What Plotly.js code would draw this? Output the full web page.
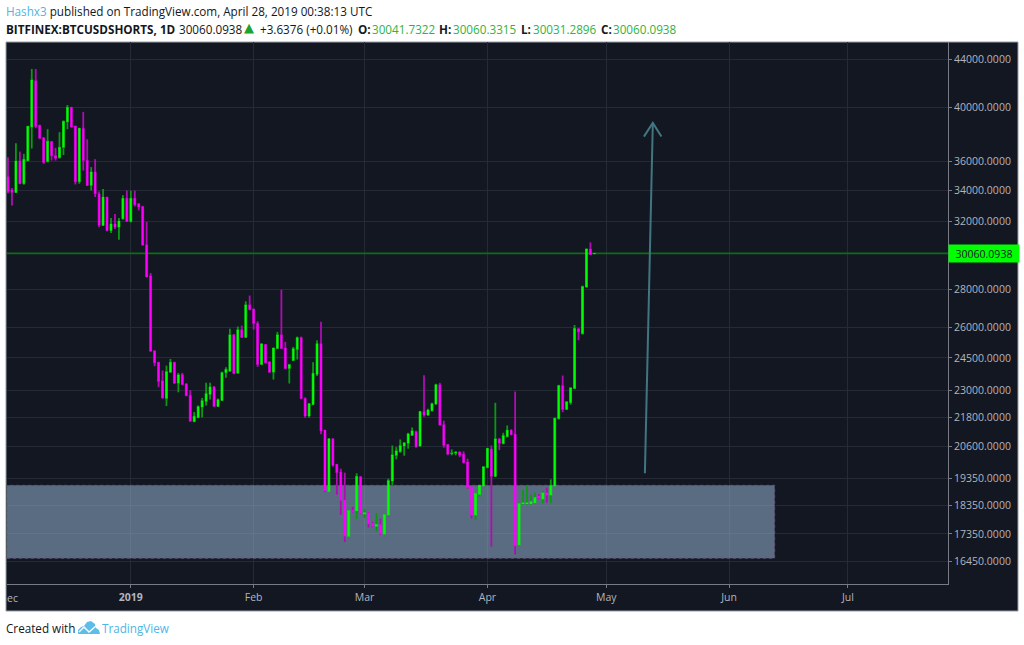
<!DOCTYPE html>
<html>
<head>
<meta charset="utf-8">
<script src="https://cdn.plot.ly/plotly-3.0.1.min.js"></script>
<style>
  html, body { margin: 0; padding: 0; background: #fff; }
</style>
</head>
<body>
<div id="chart"></div>
<script>
const firstDay = '2018-12-01';
const opens = [
  34950,34050,33870,36040,34460,36040,38500,42170,38650,37700,
  35990,37430,36420,36260,36990,38900,40030,38590,34590,38420,
  36090,34340,35270,33790,31760,33570,31430,31860,31640,32170,
  33500,32000,33500,33130,32960,30580,28780,24840,24290,23420,
  22620,23820,24290,23310,23715,23285,22770,21620,21790,22245,
  22490,22800,23150,22275,22535,23790,23870,25640,23775,25890,
  25500,27190,26960,26220,24180,25150,24310,23820,24950,25640,
  24980,23990,24370,24900,25500,22630,21860,22360,23715,25200,
  21265,18850,20910,19885,19600,18545,17260,18175,18150,19410,
  18035,18095,17730,17605,17685,17340,17995,19245,20235,20385,
  20610,20720,21045,21210,20610,22060,21900,22090,22375,23250,
  21505,20675,20305,20320,20370,20290,19975,19035,17995,18740,
  19060,19755,20490,19420,20910,20705,20990,21265,21100,16970,
  18400,18400,18400,18425,18690,18570,18815,18715,19060,21745,
  23205,22143,22435,23070,25940,25690,28150,30320,30041.7322
];
const highs = [
  36300,34170,37310,36700,36540,38570,43150,43150,38650,37750,
  38345,37430,36970,38120,39000,40210,40030,38590,38420,39670,
  37600,35600,36160,33940,34100,33570,32220,32470,32220,33700,
  34000,33990,34000,33180,33000,31970,28930,24840,24290,23900,
  24130,24450,24290,23790,23790,23300,22995,22030,22320,22650,
  23330,23330,23180,22620,23840,24050,25940,25640,26050,26100,
  27370,27680,26980,26320,25210,25150,24310,24980,25780,28000,
  25280,24215,25030,25540,25540,22670,22420,24290,25360,26290,
  21265,20910,20910,19885,19720,19565,18210,18300,19540,19440,
  18210,18115,17765,18070,17880,18035,19335,20635,20570,20880,
  20770,21155,21375,21240,22070,23680,22170,22435,23285,23330,
  21660,20675,20476,20400,20400,20400,20105,19035,18815,19085,
  19795,20520,20635,22435,20910,21155,21460,21293,22935,18450,
  18910,19085,18740,18815,18750,18875,19000,19310,21770,23240,
  23665,22490,23130,26130,25980,28225,30360,30720,30060.3315
];
const lows = [
  33830,33020,33870,34460,34390,36040,36920,38420,37600,35830,
  35920,36060,36060,36210,36450,38345,38470,34410,34460,35360,
  34340,34010,33570,31640,31760,31390,31290,31530,30880,32110,
  31970,31940,32960,32700,30520,28710,24820,24100,23130,22620,
  22290,23790,23300,22900,23220,22730,21630,21600,21770,21800,
  22320,22580,22245,22260,22520,23560,23870,23730,23760,25470,
  25490,26890,25890,24070,24170,24230,23790,23480,24930,24930,
  23960,23300,24360,24420,22600,21790,21790,22360,23640,21090,
  18835,18835,19795,18740,18010,17080,17250,18095,17860,18035,
  17915,17570,17580,17430,17315,17330,17970,19085,20080,20345,
  20225,20505,21020,20545,20600,21830,21860,22060,22360,21460,
  20545,20240,20240,20240,20170,19920,18960,17880,17820,18665,
  19060,19740,16930,19410,20450,20690,20975,21060,16670,16950,
  18375,18375,18375,18400,18570,18425,18450,18425,19060,21715,
  22025,22130,22350,23070,25360,25640,28110,29970,30031.2896
];
const closes = [
  33940,33870,36040,34460,36160,38570,42250,38540,37680,35920,
  37460,36400,36210,37020,38950,40030,38520,34590,38420,36060,
  34340,35270,33790,31760,33570,31430,31860,31640,32030,33500,
  32000,33500,33070,32920,30560,28710,24820,24260,23390,22650,
  23850,24290,23310,23700,23250,22745,21640,21855,22275,22535,
  22850,23150,22275,22580,23810,23960,25640,23760,25890,25500,
  27190,26930,26200,24180,25180,24260,23820,24980,25640,24950,
  23990,24180,24950,25500,22620,21860,22400,23775,25200,21220,
  18870,20910,19845,19565,18530,17270,18175,18115,19425,18060,
  18095,17695,17610,17685,17340,18025,19270,20265,20425,20635,
  20745,21115,21240,20585,22060,21900,22115,22405,23250,21475,
  20635,20290,20330,20370,20240,19950,18995,17995,18790,19085,
  19795,20520,19420,20910,20730,21045,21265,21075,16950,18425,
  18450,18450,18495,18640,18595,18815,18715,19085,21770,23205,
  22143,22480,23100,25960,25780,28180,30320,29990,30060.0938
];

const priceTicks = [44000,40000,36000,34000,32000,28000,26000,24500,23000,21800,20600,19350,18350,17350,16450];
const monthTicks = ['2019-01-01','2019-02-01','2019-03-01','2019-04-01','2019-05-01','2019-06-01','2019-07-01'];
const monthLabels = ['<b>2019</b>','Feb','Mar','Apr','May','Jun','Jul'];

const lastPrice = 30060.0938;
const xRange = ['2018-11-30 18:00','2019-07-26 06:00'];
const yRange = [15730,45490];

// drawings on the chart
const boxEnd = '2019-06-12 12:00', boxTop = 19085, boxBottom = 16546;
const arrowX = ['2019-05-10 18:00','2019-05-12 18:00',null,'2019-05-10 12:00','2019-05-12 18:00','2019-05-14 22:00'];
const arrowY = [19540,38820,null,37795,38820,37795];

const W = 1024, H = 645;
const m = { l: 7, r: 76, t: 42, b: 61 };
const plotW = W - m.l - m.r, plotH = H - m.t - m.b;
const px = (x) => (x - m.l) / plotW;
const py = (y) => 1 - (y - m.t) / plotH;

const days = opens.map((_, i) => {
  const d = new Date(firstDay + 'T00:00:00Z');
  d.setUTCDate(d.getUTCDate() + i);
  return d.toISOString().slice(0, 10);
});

const UP = '#00ff00', DOWN = '#ff00ff', UP_WICK = '#0a9a12', DOWN_WICK = '#b00cb4';

// wicks are dimmer and thinner than the bodies: draw them as line segments
// from the body edge to high/low, one trace per colour
function wickTrace(isUp, color) {
  const x = [], y = [];
  days.forEach((d, i) => {
    if ((closes[i] >= opens[i]) !== isUp) return;
    const top = Math.max(opens[i], closes[i]), bot = Math.min(opens[i], closes[i]);
    x.push(d, d, null, d, d, null);
    y.push(lows[i], bot, null, top, highs[i], null);
  });
  return { type: 'scatter', mode: 'lines', x: x, y: y, line: { color: color, width: 1.8 }, hoverinfo: 'skip' };
}

const bodies = {
  type: 'candlestick', x: days, open: opens, close: closes,
  high: opens.map((o, i) => Math.max(o, closes[i])),
  low: opens.map((o, i) => Math.min(o, closes[i])),
  increasing: { line: { color: UP, width: 0.6 }, fillcolor: UP },
  decreasing: { line: { color: DOWN, width: 0.6 }, fillcolor: DOWN },
  whiskerwidth: 0, hoverinfo: 'skip'
};
const arrow = {
  type: 'scatter', mode: 'lines', x: arrowX, y: arrowY,
  line: { color: '#41757f', width: 2 }, hoverinfo: 'skip', connectgaps: false
};

const headerFont = { family: 'Open Sans, sans-serif', size: 11.7, color: '#131722' };
const green = '#2fb344';
const label = (x, y, text, color, extra) => Object.assign({
  xref: 'paper', yref: 'paper', x: px(x), y: py(y), xanchor: 'left', yanchor: 'middle',
  text: text, showarrow: false, align: 'left', borderpad: 0,
  font: Object.assign({}, headerFont, color ? { color: color } : {})
}, extra || {});

const annotations = [
  label(5, 11, '<span style="color:#4db6e6">Hashx3</span> published on TradingView.com, April 28, 2019 00:38:13 UTC'),
  label(5, 29, '<b>BITFINEX:BTCUSDSHORTS, 1D</b>'),
  label(178, 29, '30060.0938'),
  label(243, 28, '▲', '#1fa12f', { font: { family: 'DejaVu Sans, sans-serif', size: 13, color: '#1fa12f' } }),
  label(259, 29, '+3.6376 (+0.01%)'),
  label(357, 29, '<b>O:</b>'),
  label(371, 29, '30041.7322', green),
  label(438, 29, '<b>H:</b>'),
  label(452, 29, '30060.3315', green),
  label(520, 29, '<b>L:</b>'),
  label(532, 29, '30031.2896', green),
  label(600, 29, '<b>C:</b>'),
  label(612, 29, '30060.0938', green),
  label(5, 628, 'Created with'),
  label(101, 628, 'TradingView', '#4db6e6'),
  label(6, 598, 'ec', '#b2b5be', { font: { family: 'Open Sans, sans-serif', size: 10.5, color: '#b2b5be' } }),
  {
    xref: 'paper', yref: 'y', x: 1, y: Math.log10(lastPrice), xanchor: 'left', yanchor: 'middle',
    text: lastPrice.toFixed(4), showarrow: false, bgcolor: UP, width: 70, height: 17, borderpad: 0,
    font: { family: 'Open Sans, sans-serif', size: 10.5, color: '#131722' }
  }
];

const shapes = [
  // dark panel behind the axes, with its grey frame
  { type: 'rect', xref: 'paper', yref: 'paper', x0: px(6), x1: px(1018), y0: py(611), y1: py(42),
    fillcolor: '#131722', line: { color: '#9a9da6', width: 1 }, layer: 'below' },
  // grey support zone, over the grid but under the candles
  { type: 'rect', xref: 'x', yref: 'y', x0: xRange[0], x1: boxEnd, y0: boxBottom, y1: boxTop,
    fillcolor: 'rgba(146,174,205,0.56)', line: { color: '#6f4f7a', width: 1, dash: 'dot' }, layer: 'between' },
  // last price level
  { type: 'line', xref: 'x', yref: 'y', x0: xRange[0], x1: xRange[1], y0: lastPrice, y1: lastPrice,
    line: { color: '#0c6e14', width: 1.8 }, layer: 'between' },
  // TradingView logo
  { type: 'path', xref: 'paper', yref: 'paper', fillcolor: '#5dbde8', line: { width: 0 }, layer: 'below',
    path: 'M' + [[78,634],[78,630],[81,627],[84,626],[87,622],[91,621],[95,624],[96,628],[99,630],[100,634]]
      .map(p => px(p[0]) + ',' + py(p[1])).join(' L') + ' Z' },
  { type: 'path', xref: 'paper', yref: 'paper', line: { color: '#ffffff', width: 1.4 }, layer: 'below',
    path: 'M' + [[79,632],[84,627],[89,632],[96,626]].map(p => px(p[0]) + ',' + py(p[1])).join(' L') }
];

const layout = {
  width: W, height: H, margin: m,
  paper_bgcolor: '#ffffff', plot_bgcolor: '#131722',
  showlegend: false, dragmode: false, boxgap: 0.3,
  font: { family: 'Open Sans, sans-serif', size: 10.5, color: '#b2b5be' },
  xaxis: {
    type: 'date', range: xRange, rangeslider: { visible: false },
    tickmode: 'array', tickvals: monthTicks, ticktext: monthLabels,
    ticks: 'outside', ticklen: 3, tickcolor: '#787b86',
    showline: true, linecolor: '#787b86', linewidth: 1,
    showgrid: true, gridcolor: '#262a36', gridwidth: 1, zeroline: false
  },
  yaxis: {
    type: 'log', side: 'right', range: yRange.map(Math.log10),
    tickmode: 'array', tickvals: priceTicks, ticktext: priceTicks.map(v => v.toFixed(4)),
    ticks: 'outside', ticklen: 3, tickcolor: '#787b86',
    showline: true, linecolor: '#787b86', linewidth: 1,
    showgrid: true, gridcolor: '#262a36', gridwidth: 1, zeroline: false
  },
  shapes: shapes, annotations: annotations
};

Plotly.newPlot('chart', [bodies, wickTrace(true, UP_WICK), wickTrace(false, DOWN_WICK), arrow], layout,
  { displayModeBar: false, staticPlot: true });
</script>
</body>
</html>
